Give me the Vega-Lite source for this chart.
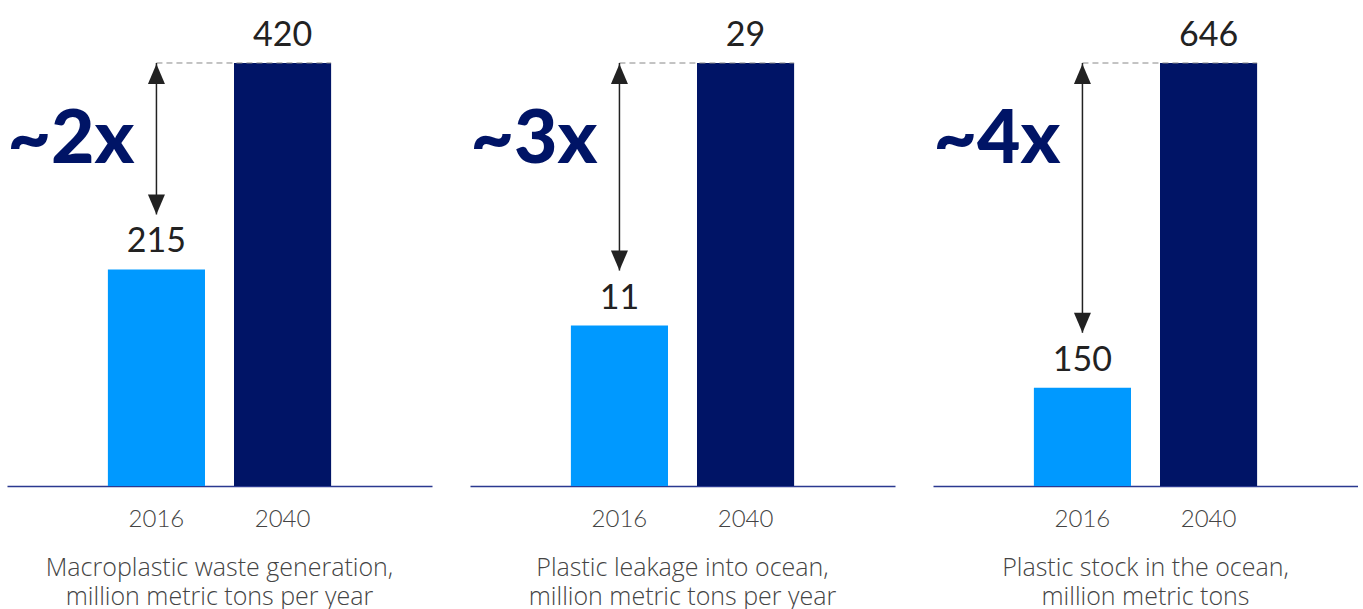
{
  "$schema": "https://vega.github.io/schema/vega-lite/v6.json",
  "padding": {"left": 7, "top": 0, "right": 0, "bottom": 0},
  "background": "white",
  "spacing": 38,
  "datasets": {
    "bars": [
      {"panel": 1, "year": "2016", "value": 215},
      {"panel": 1, "year": "2040", "value": 420},
      {"panel": 2, "year": "2016", "value": 11},
      {"panel": 2, "year": "2040", "value": 29},
      {"panel": 3, "year": "2016", "value": 150},
      {"panel": 3, "year": "2040", "value": 646}
    ],
    "notes": [
      {"panel": 1, "from": "2016", "to": "2040", "lo": 215, "hi": 420, "label": "~2x"},
      {"panel": 2, "from": "2016", "to": "2040", "lo": 11, "hi": 29, "label": "~3x"},
      {"panel": 3, "from": "2016", "to": "2040", "lo": 150, "hi": 646, "label": "~4x"}
    ]
  },
  "hconcat": [
    {
      "width": 425, "height": 486,
      "title": {"text": ["Macroplastic waste generation,", "million metric tons per year"]},
      "layer": [
        {"data": {"name": "bars"}, "transform": [{"filter": "datum.panel == 1"}],
         "mark": {"type": "bar"},
         "encoding": {
           "x": {"field": "year", "type": "nominal", "scale": {"domain": ["2016", "2040"], "paddingInner": 0.23, "paddingOuter": 0.8}, "axis": {"title": null, "labelAngle": 0}},
           "y": {"field": "value", "type": "quantitative", "scale": {"domain": [0, 482.55], "nice": false}, "axis": null},
           "color": {"field": "year", "type": "nominal", "scale": {"domain": ["2016", "2040"], "range": ["#0099ff", "#001466"]}, "legend": null}
         }},
        {"data": {"name": "bars"}, "transform": [{"filter": "datum.panel == 1"}],
         "mark": {"type": "text", "baseline": "alphabetic", "dy": -17, "fontSize": 34, "font": "Lato", "color": "#222222"},
         "encoding": {"x": {"field": "year", "type": "nominal"}, "y": {"field": "value", "type": "quantitative"}, "text": {"field": "value"}}},
        {"data": {"name": "notes"}, "transform": [{"filter": "datum.panel == 1"}],
         "mark": {"type": "rule", "strokeDash": [6, 4], "color": "#888888", "strokeWidth": 1},
         "encoding": {"x": {"field": "from", "type": "nominal"}, "x2": {"field": "to", "bandPosition": 1}, "y": {"field": "hi", "type": "quantitative"}}},
        {"data": {"name": "notes"}, "transform": [{"filter": "datum.panel == 1"}],
         "mark": {"type": "rule", "color": "#222222", "strokeWidth": 1.5, "y2Offset": -55},
         "encoding": {"x": {"field": "from", "type": "nominal"}, "y": {"field": "hi", "type": "quantitative"}, "y2": {"field": "lo"}}},
        {"data": {"name": "notes"}, "transform": [{"filter": "datum.panel == 1"}],
         "mark": {"type": "point", "shape": "M0,-1L0.85,1L-0.85,1Z", "size": 400, "filled": true, "color": "#222222", "opacity": 1, "yOffset": 11},
         "encoding": {"x": {"field": "from", "type": "nominal"}, "y": {"field": "hi", "type": "quantitative"}}},
        {"data": {"name": "notes"}, "transform": [{"filter": "datum.panel == 1"}],
         "mark": {"type": "point", "shape": "M0,1L0.85,-1L-0.85,-1Z", "size": 400, "filled": true, "color": "#222222", "opacity": 1, "yOffset": -65},
         "encoding": {"x": {"field": "from", "type": "nominal"}, "y": {"field": "lo", "type": "quantitative"}}},
        {"data": {"name": "notes"}, "transform": [{"filter": "datum.panel == 1"}],
         "mark": {"type": "text", "align": "right", "baseline": "alphabetic", "dx": -22, "dy": 100, "fontSize": 75, "fontWeight": 900, "font": "Lato", "color": "#001466"},
         "encoding": {"x": {"field": "from", "type": "nominal"}, "y": {"field": "hi", "type": "quantitative"}, "text": {"field": "label"}}}
      ]
    },
    {
      "width": 425, "height": 486,
      "title": {"text": ["Plastic leakage into ocean,", "million metric tons per year"]},
      "layer": [
        {"data": {"name": "bars"}, "transform": [{"filter": "datum.panel == 2"}],
         "mark": {"type": "bar"},
         "encoding": {
           "x": {"field": "year", "type": "nominal", "scale": {"domain": ["2016", "2040"], "paddingInner": 0.23, "paddingOuter": 0.8}, "axis": {"title": null, "labelAngle": 0}},
           "y": {"field": "value", "type": "quantitative", "scale": {"domain": [0, 33.32], "nice": false}, "axis": null},
           "color": {"field": "year", "type": "nominal", "scale": {"domain": ["2016", "2040"], "range": ["#0099ff", "#001466"]}, "legend": null}
         }},
        {"data": {"name": "bars"}, "transform": [{"filter": "datum.panel == 2"}],
         "mark": {"type": "text", "baseline": "alphabetic", "dy": -17, "fontSize": 34, "font": "Lato", "color": "#222222"},
         "encoding": {"x": {"field": "year", "type": "nominal"}, "y": {"field": "value", "type": "quantitative"}, "text": {"field": "value"}}},
        {"data": {"name": "notes"}, "transform": [{"filter": "datum.panel == 2"}],
         "mark": {"type": "rule", "strokeDash": [6, 4], "color": "#888888", "strokeWidth": 1},
         "encoding": {"x": {"field": "from", "type": "nominal"}, "x2": {"field": "to", "bandPosition": 1}, "y": {"field": "hi", "type": "quantitative"}}},
        {"data": {"name": "notes"}, "transform": [{"filter": "datum.panel == 2"}],
         "mark": {"type": "rule", "color": "#222222", "strokeWidth": 1.5, "y2Offset": -55},
         "encoding": {"x": {"field": "from", "type": "nominal"}, "y": {"field": "hi", "type": "quantitative"}, "y2": {"field": "lo"}}},
        {"data": {"name": "notes"}, "transform": [{"filter": "datum.panel == 2"}],
         "mark": {"type": "point", "shape": "M0,-1L0.85,1L-0.85,1Z", "size": 400, "filled": true, "color": "#222222", "opacity": 1, "yOffset": 11},
         "encoding": {"x": {"field": "from", "type": "nominal"}, "y": {"field": "hi", "type": "quantitative"}}},
        {"data": {"name": "notes"}, "transform": [{"filter": "datum.panel == 2"}],
         "mark": {"type": "point", "shape": "M0,1L0.85,-1L-0.85,-1Z", "size": 400, "filled": true, "color": "#222222", "opacity": 1, "yOffset": -65},
         "encoding": {"x": {"field": "from", "type": "nominal"}, "y": {"field": "lo", "type": "quantitative"}}},
        {"data": {"name": "notes"}, "transform": [{"filter": "datum.panel == 2"}],
         "mark": {"type": "text", "align": "right", "baseline": "alphabetic", "dx": -22, "dy": 100, "fontSize": 75, "fontWeight": 900, "font": "Lato", "color": "#001466"},
         "encoding": {"x": {"field": "from", "type": "nominal"}, "y": {"field": "hi", "type": "quantitative"}, "text": {"field": "label"}}}
      ]
    },
    {
      "width": 425, "height": 486,
      "title": {"text": ["Plastic stock in the ocean,", "million metric tons"]},
      "layer": [
        {"data": {"name": "bars"}, "transform": [{"filter": "datum.panel == 3"}],
         "mark": {"type": "bar"},
         "encoding": {
           "x": {"field": "year", "type": "nominal", "scale": {"domain": ["2016", "2040"], "paddingInner": 0.23, "paddingOuter": 0.8}, "axis": {"title": null, "labelAngle": 0}},
           "y": {"field": "value", "type": "quantitative", "scale": {"domain": [0, 742.22], "nice": false}, "axis": null},
           "color": {"field": "year", "type": "nominal", "scale": {"domain": ["2016", "2040"], "range": ["#0099ff", "#001466"]}, "legend": null}
         }},
        {"data": {"name": "bars"}, "transform": [{"filter": "datum.panel == 3"}],
         "mark": {"type": "text", "baseline": "alphabetic", "dy": -17, "fontSize": 34, "font": "Lato", "color": "#222222"},
         "encoding": {"x": {"field": "year", "type": "nominal"}, "y": {"field": "value", "type": "quantitative"}, "text": {"field": "value"}}},
        {"data": {"name": "notes"}, "transform": [{"filter": "datum.panel == 3"}],
         "mark": {"type": "rule", "strokeDash": [6, 4], "color": "#888888", "strokeWidth": 1},
         "encoding": {"x": {"field": "from", "type": "nominal"}, "x2": {"field": "to", "bandPosition": 1}, "y": {"field": "hi", "type": "quantitative"}}},
        {"data": {"name": "notes"}, "transform": [{"filter": "datum.panel == 3"}],
         "mark": {"type": "rule", "color": "#222222", "strokeWidth": 1.5, "y2Offset": -55},
         "encoding": {"x": {"field": "from", "type": "nominal"}, "y": {"field": "hi", "type": "quantitative"}, "y2": {"field": "lo"}}},
        {"data": {"name": "notes"}, "transform": [{"filter": "datum.panel == 3"}],
         "mark": {"type": "point", "shape": "M0,-1L0.85,1L-0.85,1Z", "size": 400, "filled": true, "color": "#222222", "opacity": 1, "yOffset": 11},
         "encoding": {"x": {"field": "from", "type": "nominal"}, "y": {"field": "hi", "type": "quantitative"}}},
        {"data": {"name": "notes"}, "transform": [{"filter": "datum.panel == 3"}],
         "mark": {"type": "point", "shape": "M0,1L0.85,-1L-0.85,-1Z", "size": 400, "filled": true, "color": "#222222", "opacity": 1, "yOffset": -65},
         "encoding": {"x": {"field": "from", "type": "nominal"}, "y": {"field": "lo", "type": "quantitative"}}},
        {"data": {"name": "notes"}, "transform": [{"filter": "datum.panel == 3"}],
         "mark": {"type": "text", "align": "right", "baseline": "alphabetic", "dx": -22, "dy": 100, "fontSize": 75, "fontWeight": 900, "font": "Lato", "color": "#001466"},
         "encoding": {"x": {"field": "from", "type": "nominal"}, "y": {"field": "hi", "type": "quantitative"}, "text": {"field": "label"}}}
      ]
    }
  ],
  "config": {
    "view": {"stroke": null},
    "axisX": {"domainColor": "#2b3990", "domainWidth": 1.5, "ticks": false, "tickSize": 0, "labelPadding": 21, "labelFont": "Lato", "labelFontSize": 24, "labelFontWeight": 300, "labelColor": "#444444", "grid": false},
    "title": {"orient": "bottom", "anchor": "middle", "font": "Open Sans", "fontSize": 25, "fontWeight": 300, "color": "#444444", "lineHeight": 29, "offset": 25}
  }
}
